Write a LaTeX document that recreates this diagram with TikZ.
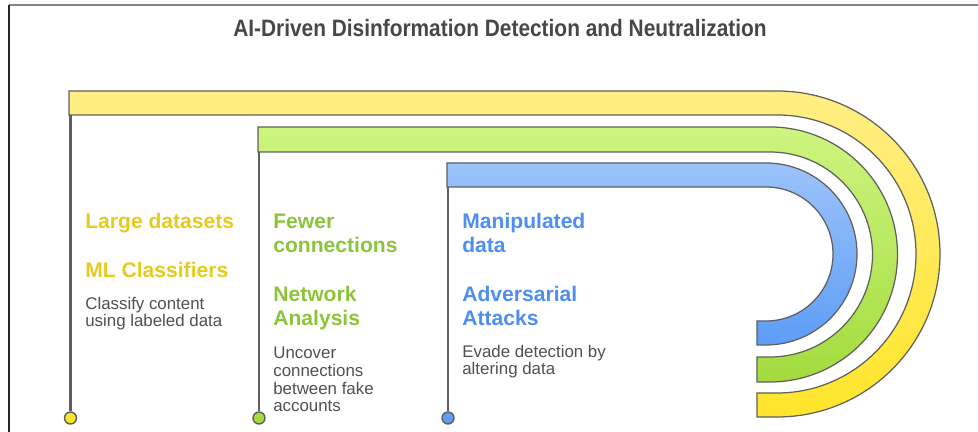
\documentclass[tikz,border=0pt]{standalone}
\usepackage{fontspec}
\setmainfont{Liberation Sans}
\newfontfamily\titlefont[FakeStretch=0.88]{Liberation Sans}

\definecolor{ylwtop}{HTML}{FFEE85}
\definecolor{ylwbot}{HTML}{FFE52A}
\definecolor{grntop}{HTML}{CDF580}
\definecolor{grnbot}{HTML}{A3DB3E}
\definecolor{blutop}{HTML}{9CC3FA}
\definecolor{blubot}{HTML}{5D9DF5}
\definecolor{ylwtext}{HTML}{E5CB20}
\definecolor{grntext}{HTML}{8CC43C}
\definecolor{blutext}{HTML}{4E8EF0}
\definecolor{bodytext}{HTML}{505050}
\definecolor{rim}{HTML}{5F5F5F}

\begin{document}
\begin{tikzpicture}[x=0.02cm,y=0.02cm,
band/.style={draw=rim,line width=0.7pt},
stem/.style={draw=rim,line width=1.3pt},
dot/.style={circle,draw=rim,line width=0.8pt,minimum size=12*0.02cm,inner sep=0pt},
head/.style={anchor=base west,align=left,inner sep=0pt,font=\fontsize{12}{13.9}\selectfont\bfseries},
body/.style={anchor=base west,align=left,inner sep=0pt,font=\fontsize{9.6}{10.2}\selectfont,text=bodytext}]

\useasboundingbox (0,0) rectangle (978,432);

% Frame
\draw[gray,line width=1pt] (9,427) -- (978,427);
\draw[black!85,line width=1pt] (9,427) -- (9,0);

\node[font=\titlefont\fontsize{13.5}{15}\selectfont\bfseries,text=black!72] (title) at (500,404) {AI-Driven Disinformation Detection and Neutralization};

% Bands
\draw[band,top color=ylwtop,bottom color=ylwbot] (69,341) -- (777,341) arc[start angle=90,end angle=-90,radius=163]
    -- (757,15) -- (757,39) -- (777,39) arc[start angle=-90,end angle=90,radius=139] -- (69,317) -- cycle;
\draw[band,top color=grntop,bottom color=grnbot] (258,305) -- (770,305) arc[start angle=90,end angle=-90,radius=127.5]
    -- (757,50) -- (757,75) -- (770,75) arc[start angle=-90,end angle=90,radius=102.5] -- (258,280) -- cycle;
\draw[band,top color=blutop,bottom color=blubot] (447,269) -- (766,269) arc[start angle=90,end angle=-90,radius=91]
    -- (757,87) -- (757,111) -- (766,111) arc[start angle=-90,end angle=90,radius=67] -- (447,245) -- cycle;

% Stems and dots
\coordinate (ytop) at (70.5,317);
\coordinate (gtop) at (259,280);
\coordinate (btop) at (448,245);
\node[dot,fill=ylwbot] (ydot) at (70.5,14) {};
\node[dot,fill=grnbot] (gdot) at (259,14) {};
\node[dot,fill=blubot] (bdot) at (448,14) {};
\draw[stem] (ytop) -- (ydot);
\draw[stem] (gtop) -- (gdot);
\draw[stem] (btop) -- (bdot);

% Texts (base = last line)
\node[head,text=ylwtext] (ylarge) at (85,203) {Large datasets};
\node[head,text=ylwtext] (yml) at (85,154) {ML Classifiers};
\node[body] (ybody) at (85,105) {Classify content\\using labeled data};

\node[head,text=grntext] (gfew) at (273,179) {Fewer\\connections};
\node[head,text=grntext] (gnet) at (273,106) {Network\\Analysis};
\node[body] (gbody) at (273,20) {Uncover\\connections\\between fake\\accounts};

\node[head,text=blutext] (bman) at (462,179) {Manipulated\\data};
\node[head,text=blutext] (badv) at (462,106) {Adversarial\\Attacks};
\node[body] (bbody) at (462,57) {Evade detection by\\altering data};

\end{tikzpicture}
\end{document}
